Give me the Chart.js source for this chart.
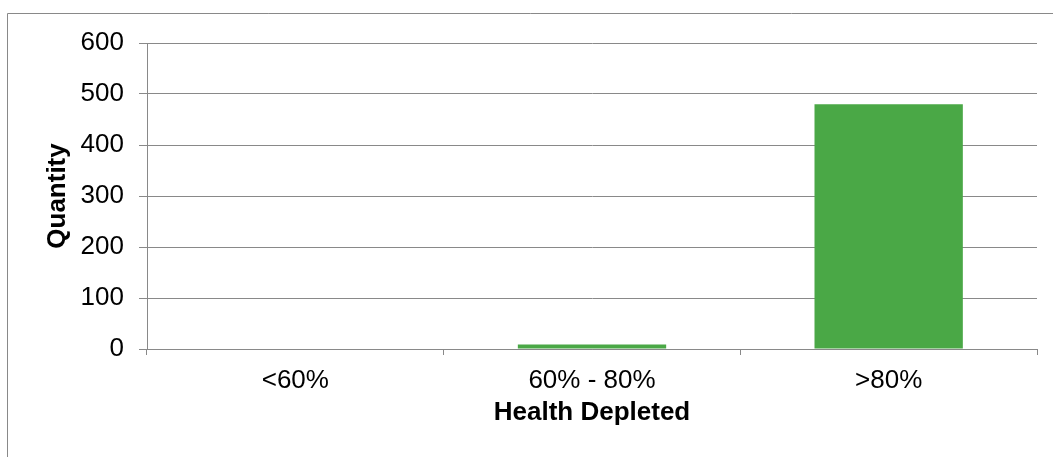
<!DOCTYPE html>
<html>
<head>
<meta charset="utf-8">
<script src="https://cdn.jsdelivr.net/npm/chart.js@4.4.1/dist/chart.umd.min.js"></script>
<style>
  html, body { margin: 0; padding: 0; background: #ffffff; }
  #wrap { position: relative; width: 1053px; height: 457px; }
</style>
</head>
<body>
<div id="wrap"><canvas id="chart" width="1053" height="457"></canvas></div>
<script>
// Health depletion buckets and how many units fall in each
const categories = ['<60%', '60% - 80%', '>80%'];
const quantities = [0, 9, 480];
const yTicks = [0, 100, 200, 300, 400, 500, 600];

const FONT = '"Liberation Sans", Arial, sans-serif';
const AXIS_GREY = '#898989';
const BAR_GREEN = 'rgb(74,168,70)';

// Outer frame (top and left edges of the chart box)
const framePlugin = {
  id: 'frame',
  beforeDraw(chart) {
    const ctx = chart.ctx;
    ctx.save();
    ctx.strokeStyle = AXIS_GREY;
    ctx.lineWidth = 1;
    ctx.beginPath();
    ctx.moveTo(7.5, chart.height);
    ctx.lineTo(7.5, 13.5);
    ctx.lineTo(chart.width, 13.5);
    ctx.stroke();
    ctx.restore();
  }
};

new Chart(document.getElementById('chart'), {
  type: 'bar',
  data: {
    labels: categories,
    datasets: [{
      label: 'Quantity',
      data: quantities,
      backgroundColor: BAR_GREEN,
      borderWidth: 0,
      barPercentage: 0.5,
      categoryPercentage: 1.0
    }]
  },
  options: {
    responsive: false,
    animation: false,
    devicePixelRatio: 1,
    layout: { padding: { left: 8, right: 16, top: 43, bottom: 0 } },
    plugins: {
      legend: { display: false },
      tooltip: { enabled: false }
    },
    scales: {
      x: {
        offset: true,
        grid: {
          offset: true,
          drawOnChartArea: false,
          drawTicks: true,
          tickLength: 6,
          color: AXIS_GREY,
          lineWidth: 1
        },
        border: { display: true, color: AXIS_GREY, width: 1 },
        ticks: {
          color: '#000000',
          padding: 10,
          font: { family: FONT, size: 26 }
        },
        title: {
          display: true,
          text: 'Health Depleted',
          color: '#000000',
          padding: { top: 29, bottom: 29 },
          font: { family: FONT, size: 26, weight: 'bold' }
        },
        afterFit(scale) { scale.height = 108; }
      },
      y: {
        min: 0,
        max: 600,
        afterBuildTicks(scale) { scale.ticks = yTicks.map(v => ({ value: v })); },
        grid: {
          drawTicks: true,
          tickLength: 8,
          color: AXIS_GREY,
          lineWidth: 1
        },
        border: { display: true, color: AXIS_GREY, width: 1 },
        ticks: {
          color: '#000000',
          padding: 15,
          font: { family: FONT, size: 26 }
        },
        title: {
          display: true,
          text: 'Quantity',
          color: '#000000',
          padding: { top: 34, bottom: 34 },
          font: { family: FONT, size: 26, weight: 'bold' }
        },
        afterFit(scale) { scale.width = 139; }
      }
    }
  },
  plugins: [framePlugin]
});
</script>
</body>
</html>
